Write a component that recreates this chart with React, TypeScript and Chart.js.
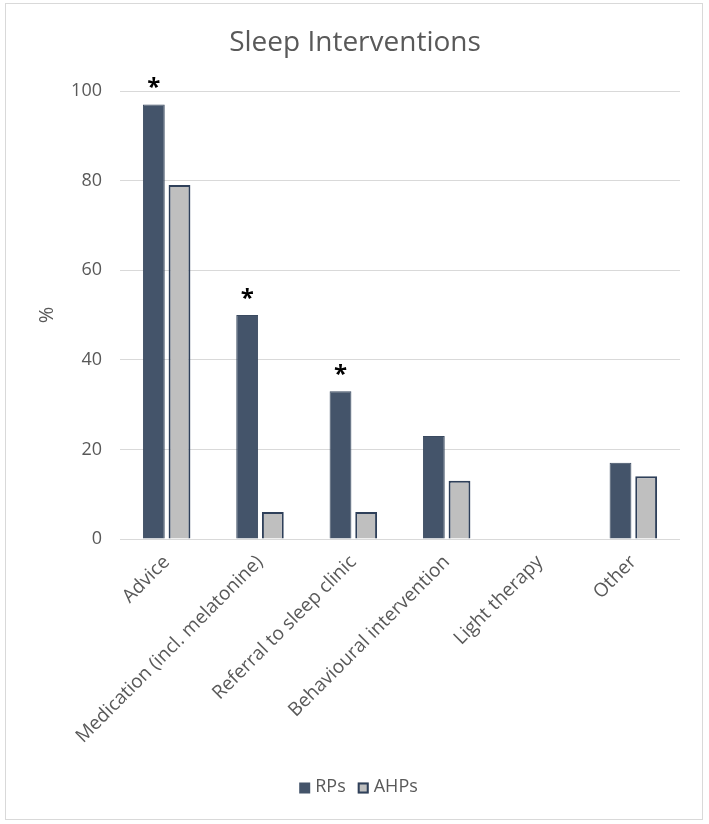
import React, { useEffect, useRef } from "react";
import { Chart, registerables } from "chart.js";

Chart.register(...registerables);

const categories = [
  "Advice",
  "Medication (incl. melatonine)",
  "Referral to sleep clinic",
  "Behavioural intervention",
  "Light therapy",
  "Other",
];
const rpValues = [97, 50, 33, 23, 0, 17];
const ahpValues = [79, 6, 6, 13, 0, 14];
const significant = [true, true, true, false, false, false];
const yTicks = [0, 20, 40, 60, 80, 100];
const chartTitle = "Sleep Interventions";
const seriesNames = ["RPs", "AHPs"];

const FONT = "'Open Sans', sans-serif";
const TEXT = "#595959";
const RP_FILL = "#44546a";
const RP_BORDER = "#3a4a60";
const AHP_FILL = "#bfbfbf";
const AHP_BORDER = "#2f405a";

export default function App() {
  const ref = useRef<HTMLCanvasElement | null>(null);

  useEffect(() => {
    if (!ref.current) return;
    const framePlugin = {
      id: "frame",
      beforeDraw(chart: any) {
        const ctx = chart.ctx;
        ctx.save();
        ctx.fillStyle = "#ffffff";
        ctx.fillRect(0, 0, chart.width, chart.height);
        ctx.strokeStyle = "#d9d9d9";
        ctx.lineWidth = 1;
        ctx.strokeRect(5.5, 3.5, 697, 816);
        ctx.fillStyle = TEXT;
        ctx.font = `28px ${FONT}`;
        ctx.textAlign = "center";
        ctx.textBaseline = "middle";
        ctx.fillText(chartTitle, 355, 43);
        ctx.restore();
      },
      afterDraw(chart: any) {
        const ctx = chart.ctx;
        ctx.save();
        ctx.font = `18px ${FONT}`;
        ctx.textBaseline = "middle";
        ctx.textAlign = "left";
        const box = 11;
        const gapBoxText = 5;
        const gapItems = 12;
        const widths = seriesNames.map((n) => ctx.measureText(n).width);
        const total = widths.reduce((a, w) => a + box + gapBoxText + w, 0) + gapItems;
        let x = 358.5 - total / 2;
        const cy = 787;
        seriesNames.forEach((n, i) => {
          if (i === 0) {
            ctx.fillStyle = RP_FILL;
            ctx.fillRect(x, cy - box / 2 + 1, box, box);
          } else {
            ctx.fillStyle = AHP_FILL;
            ctx.fillRect(x, cy - box / 2 + 1, box, box);
            ctx.strokeStyle = AHP_BORDER;
            ctx.lineWidth = 2;
            ctx.strokeRect(x + 1, cy - box / 2 + 2, box - 2, box - 2);
          }
          x += box + gapBoxText;
          ctx.fillStyle = TEXT;
          ctx.fillText(n, x, cy);
          x += widths[i] + gapItems;
        });
        ctx.restore();
      },
    };
    const starPlugin = {
      id: "stars",
      afterDatasetsDraw(chart: any) {
        const ctx = chart.ctx;
        const meta = chart.getDatasetMeta(0);
        ctx.save();
        ctx.fillStyle = "#000000";
        ctx.font = `bold 24px ${FONT}`;
        ctx.textAlign = "center";
        ctx.textBaseline = "middle";
        significant.forEach((s, i) => {
          if (!s) return;
          const el = meta.data[i];
          ctx.fillText("*", el.x, el.y - 16);
        });
        ctx.restore();
      },
    };
    const chart = new Chart(ref.current, {
      type: "bar",
      data: {
        labels: categories,
        datasets: [
          {
            label: seriesNames[0],
            data: rpValues,
            backgroundColor: RP_FILL,
            borderColor: RP_BORDER,
            borderWidth: 1,
            categoryPercentage: 0.55,
            barPercentage: 0.85,
          },
          {
            label: seriesNames[1],
            data: ahpValues,
            backgroundColor: AHP_FILL,
            borderColor: AHP_BORDER,
            borderWidth: 2,
            categoryPercentage: 0.55,
            barPercentage: 0.85,
          },
        ],
      },
      options: {
        responsive: false,
        animation: false,
        layout: { padding: { top: 91, left: 0, right: 29, bottom: 60 } },
        plugins: {
          title: { display: false },
          tooltip: { enabled: false },
          legend: { display: false },
        },
        scales: {
          x: {
            grid: { display: false },
            border: { display: false },
            ticks: {
              color: TEXT,
              font: { family: FONT, size: 19 },
              minRotation: 45,
              maxRotation: 45,
              padding: 4,
            },
            afterFit: (s: any) => {
              s.height = 225;
            },
          },
          y: {
            min: 0,
            max: 100,
            afterBuildTicks: (s: any) => {
              s.ticks = yTicks.map((v) => ({ value: v }));
            },
            grid: { color: "#d9d9d9", lineWidth: 1, drawTicks: false },
            border: { display: false },
            ticks: {
              color: TEXT,
              font: { family: FONT, size: 18 },
              padding: 18,
            },
            title: {
              display: true,
              text: "%",
              color: TEXT,
              font: { family: FONT, size: 20 },
              padding: { top: 35, bottom: 0 },
            },
            afterFit: (s: any) => {
              s.width = 120;
            },
          },
        },
      },
      plugins: [framePlugin, starPlugin],
    } as any);
    return () => chart.destroy();
  }, []);

  return (
    <div style={{ position: "absolute", left: 0, top: 0, width: 709, height: 824 }}>
      <canvas ref={ref} width={709} height={824} style={{ width: 709, height: 824, display: "block" }} />
    </div>
  );
}
